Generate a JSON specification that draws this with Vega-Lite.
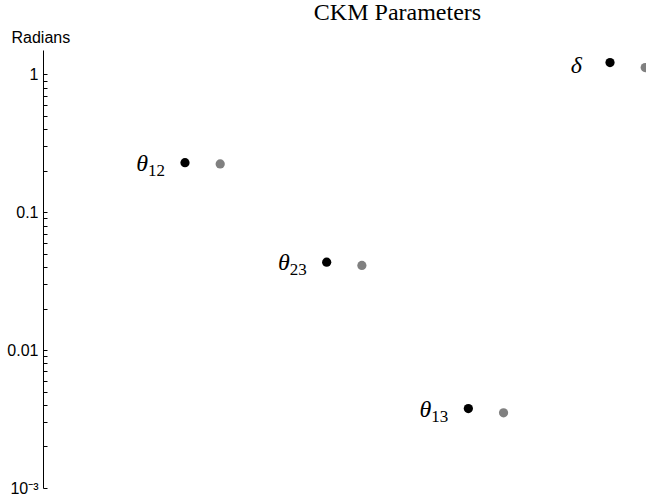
{
  "$schema": "https://vega.github.io/schema/vega-lite/v6.json",
  "width": 603,
  "height": 438,
  "autosize": {"type": "none"},
  "padding": {"left": 43, "top": 50, "right": 0, "bottom": 9},
  "background": "white",
  "config": {"view": {"stroke": null}, "font": "Liberation Sans"},
  "title": {"text": "CKM Parameters", "font": "Liberation Serif", "fontSize": 24, "fontWeight": "normal", "color": "black", "anchor": "middle", "dx": 53, "dy": 24, "offset": 4, "baseline": "bottom"},
  "data": {"values": [
    {"param": "θ12", "sym": "θ", "sub": "12", "series": "a", "value": 0.2287},
    {"param": "θ23", "sym": "θ", "sub": "23", "series": "a", "value": 0.0434},
    {"param": "θ13", "sym": "θ", "sub": "13", "series": "a", "value": 0.00377},
    {"param": "δ", "sym": "δ", "sub": "", "series": "a", "value": 1.216},
    {"param": "θ12", "sym": "θ", "sub": "12", "series": "b", "value": 0.224},
    {"param": "θ23", "sym": "θ", "sub": "23", "series": "b", "value": 0.0411},
    {"param": "θ13", "sym": "θ", "sub": "13", "series": "b", "value": 0.00351},
    {"param": "δ", "sym": "δ", "sub": "", "series": "b", "value": 1.118}
  ]},
  "encoding": {
    "x": {"field": "param", "type": "nominal", "sort": ["θ12", "θ23", "θ13", "δ"], "scale": {"type": "band", "range": [88.8, 655.5], "paddingInner": 0, "paddingOuter": 0}, "axis": null},
    "xOffset": {"field": "series", "type": "nominal", "sort": ["a", "b"], "scale": {"type": "point", "range": [53.2, 88.4], "padding": 0}},
    "y": {"field": "value", "type": "quantitative",
      "scale": {"type": "log", "domain": [0.001, 1.5], "nice": false},
      "axis": {
        "title": "Radians", "titleAngle": 0, "titleX": -32, "titleY": -8, "titleAlign": "left", "titleBaseline": "alphabetic",
        "titleFont": "Liberation Sans", "titleFontSize": 16, "titleFontWeight": "normal", "titleColor": "black",
        "values": [0.001, 0.002, 0.003, 0.004, 0.005, 0.006, 0.007, 0.008, 0.009, 0.01, 0.02, 0.03, 0.04, 0.05, 0.06, 0.07, 0.08, 0.09, 0.1, 0.2, 0.3, 0.4, 0.5, 0.6, 0.7, 0.8, 0.9, 1],
        "labelExpr": "datum.value == 1 ? '1' : datum.value == 0.1 ? '0.1' : datum.value == 0.01 ? '0.01' : datum.value == 0.001 ? '10⁻³' : ''",
        "labelFont": "Liberation Sans", "labelFontSize": 16, "labelColor": "black", "labelPadding": 9,
        "labelFlush": false, "labelOverlap": false,
        "tickSize": -4, "tickColor": "black", "domainColor": "black", "grid": false
      }
    }
  },
  "layer": [
    {
      "mark": {"type": "point", "filled": true, "size": 85, "opacity": 1},
      "encoding": {"color": {"field": "series", "type": "nominal", "scale": {"domain": ["a", "b"], "range": ["#000000", "#808080"]}, "legend": null}}
    },
    {
      "transform": [{"filter": "datum.series == 'a' && datum.sub != ''"}],
      "mark": {"type": "text", "align": "right", "baseline": "alphabetic", "dx": -37, "dy": 8, "font": "Liberation Serif", "fontStyle": "italic", "fontSize": 24, "color": "black"},
      "encoding": {"text": {"field": "sym"}}
    },
    {
      "transform": [{"filter": "datum.series == 'a' && datum.sub != ''"}],
      "mark": {"type": "text", "align": "left", "baseline": "alphabetic", "dx": -37, "dy": 13, "font": "Liberation Serif", "fontSize": 17, "color": "black"},
      "encoding": {"text": {"field": "sub"}}
    },
    {
      "transform": [{"filter": "datum.series == 'a' && datum.sub == ''"}],
      "mark": {"type": "text", "align": "right", "baseline": "alphabetic", "dx": -28, "dy": 10, "font": "Liberation Serif", "fontStyle": "italic", "fontSize": 24, "color": "black"},
      "encoding": {"text": {"field": "sym"}}
    }
  ]
}
